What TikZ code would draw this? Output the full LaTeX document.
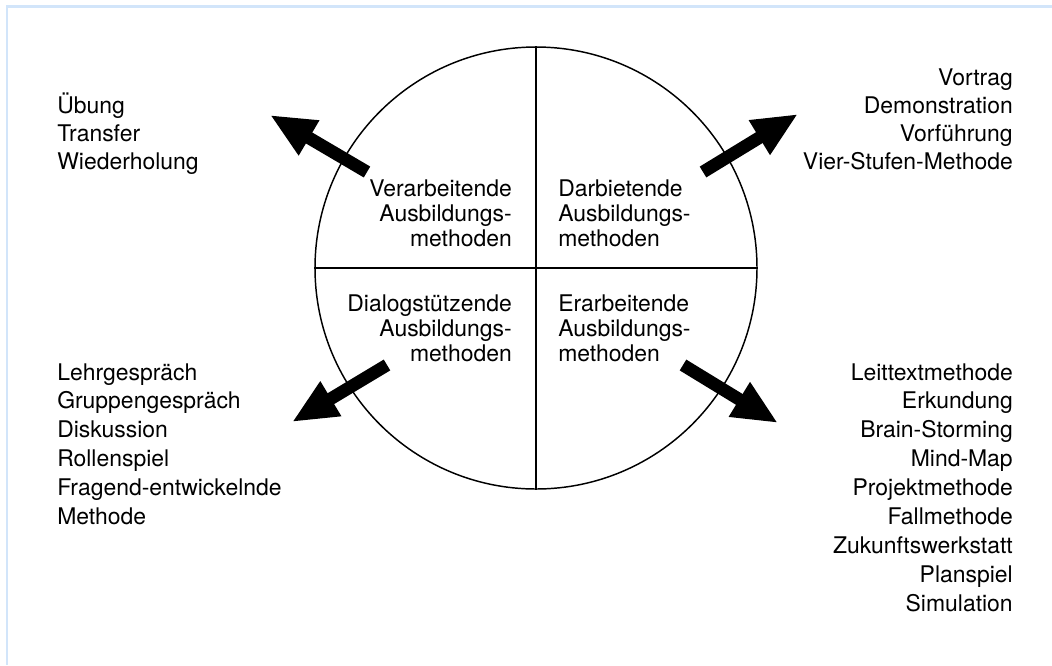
\documentclass[tikz,border=0pt]{standalone}
\usepackage{fontspec}
\setmainfont{TeX Gyre Heros}
\usetikzlibrary{arrows.meta}
\definecolor{frameblue}{RGB}{210,229,250}
\tikzset{
  lst/.style={inner sep=0pt, font=\fontsize{17.2}{20}\selectfont},
  lbl/.style={inner sep=0pt, font=\fontsize{17.2}{20}\selectfont},
  bigarrow/.style={line width=9.5pt, -{Triangle[length=34pt,width=28pt]}},
  ring/.style={line width=1.1pt},
  divider/.style={line width=0.9pt}
}
\begin{document}
\begin{tikzpicture}[x=0.75pt,y=-0.75pt]
\useasboundingbox (0,0) rectangle (1052,665);
% frame
\draw[frameblue, line width=2pt] (7,665) -- (7,6.5) -- (1052,6.5);
% circle
\node[circle, draw, ring, minimum size=442*0.75pt, inner sep=0pt] (c) at (536,268) {};
\draw[divider] (c.north) -- (c.south);
\draw[divider] (c.west) -- (c.east);
% quadrant labels
\foreach \t [count=\i] in {Verarbeitende,Ausbildungs-,methoden}
  \node[lbl, anchor=base east] (vq\i) at (512,{196+25*(\i-1)}) {\t};
\foreach \t [count=\i] in {Darbietende,Ausbildungs-,methoden}
  \node[lbl, anchor=base west] (dq\i) at (558,{196+25*(\i-1)}) {\t};
\foreach \t [count=\i] in {Dialogstützende,Ausbildungs-,methoden}
  \node[lbl, anchor=base east] (gq\i) at (512,{311+25*(\i-1)}) {\t};
\foreach \t [count=\i] in {Erarbeitende,Ausbildungs-,methoden}
  \node[lbl, anchor=base west] (eq\i) at (558,{311+25*(\i-1)}) {\t};
% lists
\foreach \t [count=\i] in {Übung,Transfer,Wiederholung}
  \node[lst, anchor=base west] (ul\i) at (57,{113+28*(\i-1)}) {\t};
\foreach \t [count=\i] in {Vortrag,Demonstration,Vorführung,Vier-Stufen-Methode}
  \node[lst, anchor=base east] (ur\i) at (1013,{85+28*(\i-1)}) {\t};
\foreach \t [count=\i] in {Lehrgespräch,Gruppengespräch,Diskussion,Rollenspiel,Fragend-entwickelnde,Methode}
  \node[lst, anchor=base west] (ll\i) at (57,{380+28.8*(\i-1)}) {\t};
\foreach \t [count=\i] in {Leittextmethode,Erkundung,Brain-Storming,Mind-Map,Projektmethode,Fallmethode,Zukunftswerkstatt,Planspiel,Simulation}
  \node[lst, anchor=base east] (lr\i) at (1013,{380+28.9*(\i-1)}) {\t};
% arrows
\coordinate (a1s) at (367,172); \coordinate (a1e) at (270,115);
\coordinate (a2s) at (703,172); \coordinate (a2e) at (798,114);
\coordinate (a3s) at (387,365); \coordinate (a3e) at (292,422);
\coordinate (a4s) at (683,365); \coordinate (a4e) at (778,423);
\draw[bigarrow] (a1s) -- (a1e);
\draw[bigarrow] (a2s) -- (a2e);
\draw[bigarrow] (a3s) -- (a3e);
\draw[bigarrow] (a4s) -- (a4e);
\end{tikzpicture}
\end{document}
